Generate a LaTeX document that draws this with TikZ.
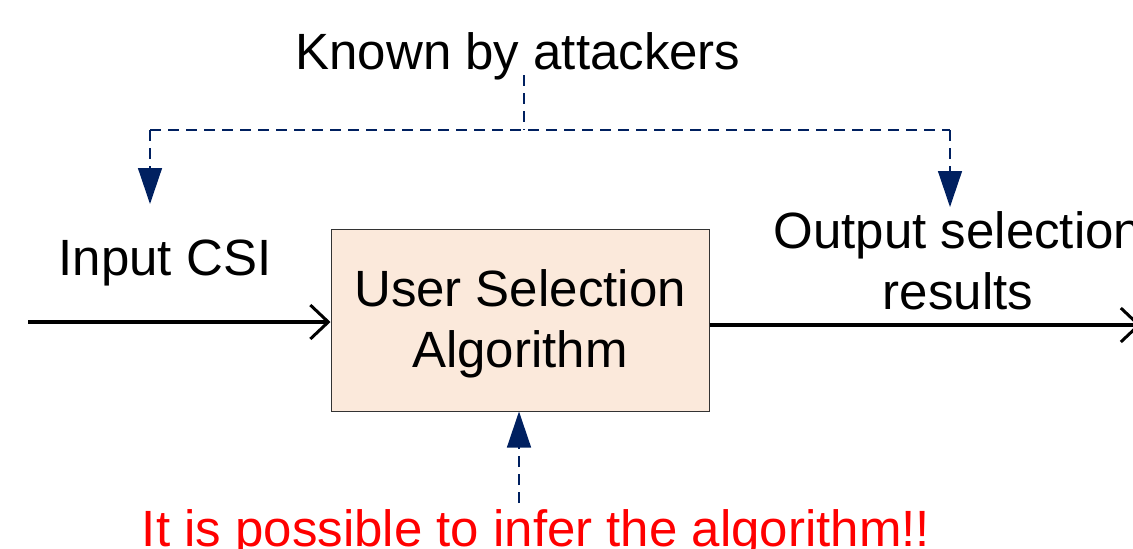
\documentclass[tikz,border=0pt]{standalone}
\usepackage{fontspec}
\setmainfont{Liberation Sans}
\usetikzlibrary{arrows.meta}
\definecolor{boxfill}{HTML}{FBE9DB}
\definecolor{navy}{HTML}{002060}
\begin{document}
\begin{tikzpicture}[x=1pt,y=-1pt,
  lbl/.style={font=\fontsize{51}{61}\selectfont, inner sep=0pt, align=center},
  flow/.style={line width=3.2pt, -{Straight Barb[length=18pt,width=34pt,line width=3pt]}},
  know/.style={navy, line width=1.4pt, dash pattern=on 11pt off 7pt, -{Triangle[length=36pt,width=24pt]}},
  knowline/.style={navy, line width=1.4pt, dash pattern=on 11pt off 7pt}]
\useasboundingbox (0,0) rectangle (1133,549);
\clip (0,0) rectangle (1133,549);
\node[draw=black!80, line width=1pt, fill=boxfill, minimum width=378pt, minimum height=182pt, inner sep=0pt, lbl] (alg) at (520,320) {\raisebox{-5pt}[\height][\depth]{\begin{tabular}{@{}c@{}}User Selection\\Algorithm\end{tabular}}};
\node[lbl] (known) at (518,56) {Known by attackers};
\node[lbl] (incsi) at (165,263) {Input CSI};
\node[lbl] (out) at (958,261) {Output selection\\results};
\node[lbl, text=red, anchor=base] (infer) at (536,546) {It is possible to infer the algorithm!!};
\coordinate (start) at (28,322);
\coordinate (endo) at (1141,325);
\coordinate (kt) at (524,75);
\coordinate (kj) at (524,130);
\coordinate (lj) at (150,130);
\coordinate (rj) at (950,130);
\coordinate (lt) at (150,204);
\coordinate (rt) at (950,207);
\coordinate (bs) at (519,503);
\draw[flow] (start) -- (alg.west |- start);
\draw[flow] (alg.east |- endo) -- (endo);
\draw[knowline] (kt) -- (kj);
\draw[knowline] (lj) -- (rj);
\draw[know] (lj) -- (lt);
\draw[know] (rj) -- (rt);
\draw[know] (bs) -- (bs |- alg.south);
\end{tikzpicture}
\end{document}
